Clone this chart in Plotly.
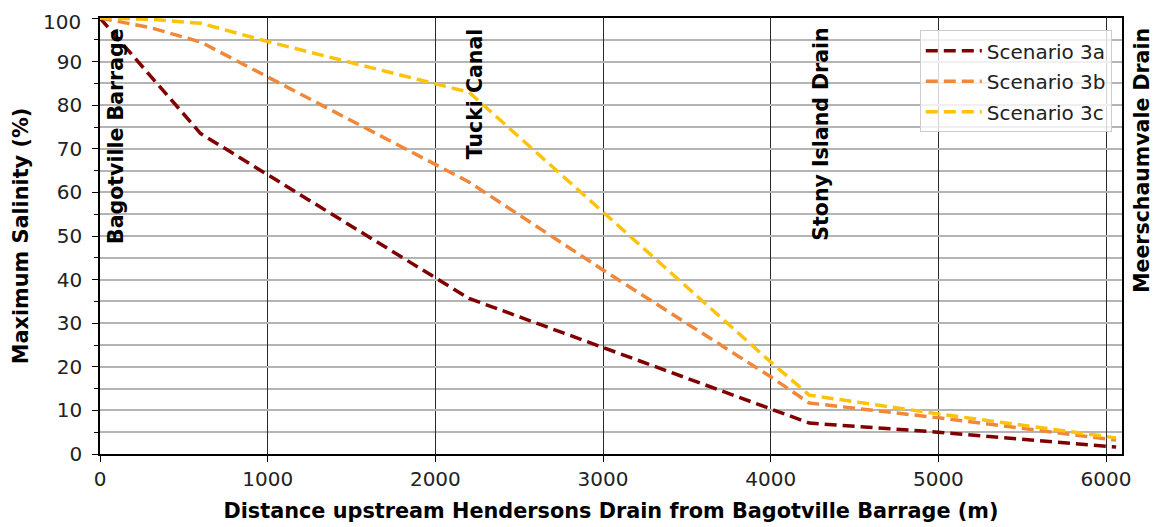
import plotly.graph_objects as go

# Data
dist_3a = [0, 600, 2200, 3000, 4000, 4230, 5000, 6060]
sal_3a = [100, 73.5, 35.7, 24.4, 10.4, 7.1, 5.0, 1.6]

dist_3b = [0, 300, 600, 1000, 2000, 2200, 3000, 4000, 4230, 5000, 6060]
sal_3b = [100, 97.8, 94.5, 86.5, 66.3, 62.4, 42.2, 17.7, 11.7, 8.3, 3.2]

dist_3c = [0, 300, 600, 1000, 2000, 2200, 3000, 4000, 4230, 5000, 6060]
sal_3c = [100, 99.7, 98.8, 94.6, 84.9, 83.0, 55.5, 21.1, 13.5, 9.2, 3.7]

series_names = ["Scenario 3a", "Scenario 3b", "Scenario 3c"]
series_colors = ["#800000", "#f0883c", "#fcc20c"]

station_names = ["Bagotville Barrage", "Tucki Canal", "Stony Island Drain", "Meerschaumvale Drain"]
station_label_x = [0, 2140, 4200, 6115]

x_ticks = [0, 1000, 2000, 3000, 4000, 5000, 6000]
y_ticks = [0, 10, 20, 30, 40, 50, 60, 70, 80, 90, 100]

X_MAX = 6095
Y_MAX = 100
FONT = "DejaVu Sans"

fig = go.Figure()
for xs, ys, name, col in zip([dist_3a, dist_3b, dist_3c], [sal_3a, sal_3b, sal_3c],
                             series_names, series_colors):
    fig.add_trace(go.Scatter(x=xs, y=ys, mode="lines", name=name, legendgroup=name,
                             line=dict(color=col, width=3.5, dash="12px,6px")))

# station labels (paper-x so that the one beyond the axis end is still shown)
for name, sx in zip(station_names, station_label_x):
    fig.add_annotation(x=sx / X_MAX, y=Y_MAX, xref="paper", yref="y", text="<b>%s</b>" % name,
                       textangle=-90, showarrow=False, xanchor="center", yanchor="top",
                       xshift=16, yshift=-8,
                       font=dict(family=FONT, size=20.5, color="black"))

# top y tick label drawn as an annotation, anchored at its top so it stays inside the page
y_ticktext = [str(v) for v in y_ticks]
fig.add_annotation(x=0, y=y_ticks[-1], xref="paper", yref="y", text=y_ticktext[-1],
                   showarrow=False, xanchor="right", yanchor="top", xshift=-17, yshift=10,
                   font=dict(family=FONT, size=20, color="#222"))
y_ticktext[-1] = ""

# The page adds an 8px body margin, so the figure is 8px smaller than the window
fig.update_layout(
    width=1150, height=519,
    margin=dict(l=92, r=36, t=10, b=73, autoexpand=False),
    paper_bgcolor="white", plot_bgcolor="white",
    font=dict(family=FONT, size=20, color="#222"),
    showlegend=True,
    legend=dict(x=0.99, y=0.972, xanchor="right", yanchor="top",
                bgcolor="rgba(255,255,255,0.8)", bordercolor="#cccccc", borderwidth=1,
                font=dict(family=FONT, size=20, color="#222"),
                itemwidth=56, tracegroupgap=1.5),
)

fig.update_xaxes(
    range=[0, X_MAX], tickvals=x_ticks, ticktext=[str(v) for v in x_ticks],
    showline=True, linecolor="black", linewidth=1.6, mirror=True,
    ticks="outside", ticklen=6, tickwidth=1.4, tickcolor="black",
    tickfont=dict(family=FONT, size=20, color="#222"), automargin=False,
    ticklabeloverflow="allow",
    showgrid=True, gridcolor="#2a2a2a", gridwidth=1.4, zeroline=False,
    title=dict(text="<b>Distance upstream Hendersons Drain from Bagotville Barrage (m)</b>",
               font=dict(family=FONT, size=20.8, color="black"), standoff=14),
)
fig.update_yaxes(
    range=[0, Y_MAX], tickvals=y_ticks, ticktext=y_ticktext,
    showline=True, linecolor="black", linewidth=1.6, mirror=True,
    ticks="outside", ticklen=6, tickwidth=1.4, tickcolor="black",
    tickfont=dict(family=FONT, size=20, color="#222"), automargin=False,
    ticklabeloverflow="allow", ticklabelstandoff=6,
    showgrid=True, gridcolor="#b4b4b4", gridwidth=1.5, zeroline=False,
    minor=dict(dtick=5, ticks="outside", ticklen=4, tickwidth=1.2, tickcolor="black",
               showgrid=True, gridcolor="#b4b4b4", gridwidth=1.5),
    title=dict(text="<b>Maximum Salinity (%)</b>",
               font=dict(family=FONT, size=20.8, color="black"), standoff=22),
)

fig.write_html("out.html")
